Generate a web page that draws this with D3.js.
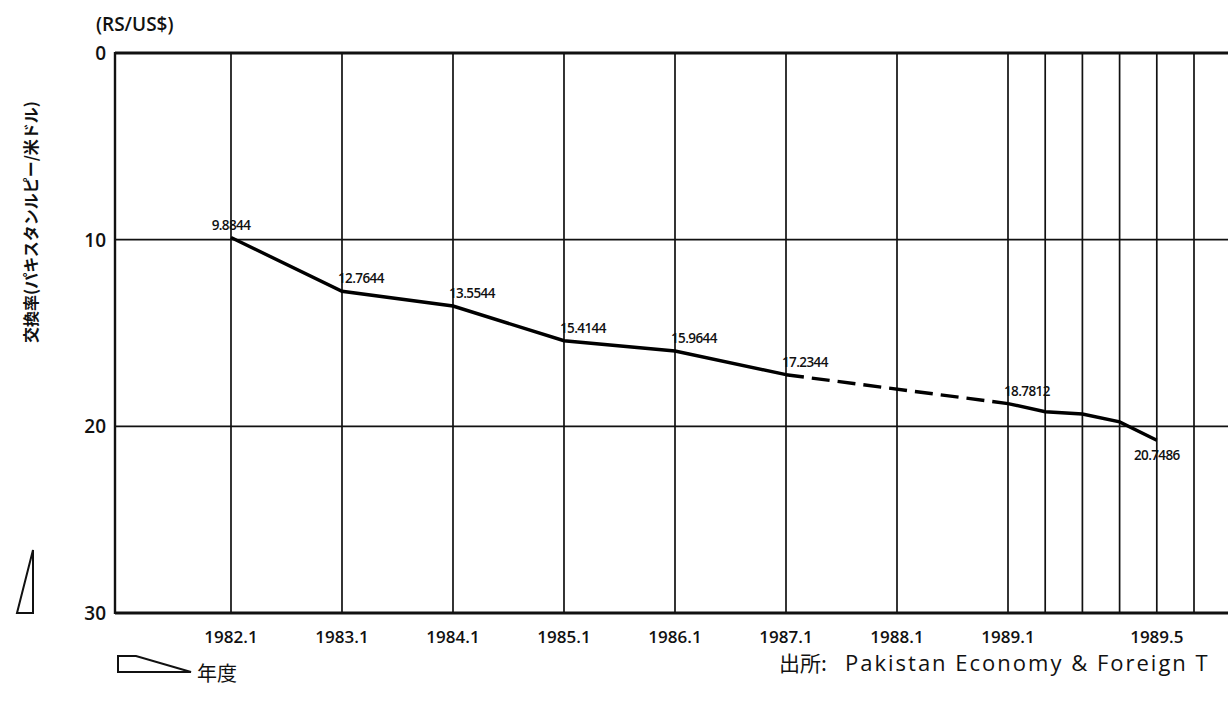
<!DOCTYPE html>
<html>
<head>
<meta charset="utf-8">
<script src="https://cdn.jsdelivr.net/npm/d3@7"></script>
<style>
  body { margin: 0; background: #fff; overflow: hidden; }
  svg { display: block; }
  .num { font-family: "Open Sans", "Noto Sans CJK JP", sans-serif; font-weight: 600; fill: #111; }
  .jp { font-family: "Noto Sans CJK JP", sans-serif; fill: #111; }
</style>
</head>
<body>
<div id="chart"></div>
<script>
// periods on the x axis (year.month) and the exchange rate
const periods = ["1982.1", "1983.1", "1984.1", "1985.1", "1986.1", "1987.1",
                 "1989.1", "1989.2", "1989.3", "1989.4", "1989.5"];
const rates = [9.8844, 12.7644, 13.5544, 15.4144, 15.9644, 17.2344,
               18.7812, 19.22, 19.34, 19.76, 20.7486];
// which points carry a value label
const labelled = ["1982.1", "1983.1", "1984.1", "1985.1", "1986.1", "1987.1", "1989.1", "1989.5"];
// the segment drawn dashed (no data in between)
const dashedFrom = "1987.1", dashedTo = "1989.1";

const gridPeriods = ["1982.1", "1983.1", "1984.1", "1985.1", "1986.1", "1987.1", "1988.1",
                     "1989.1", "1989.2", "1989.3", "1989.4", "1989.5", "1989.6"];
const tickLabels = ["1982.1", "1983.1", "1984.1", "1985.1", "1986.1", "1987.1", "1988.1", "1989.1", "1989.5"];
const yTicks = [0, 10, 20, 30];

const toYear = p => { const [y, m] = p.split(".").map(Number); return y + (m - 1) / 12; };

const W = 1228, H = 709;
const margin = { top: 53, left: 115 };
const plotH = 560;

const svg = d3.select("#chart").append("svg")
    .attr("width", W).attr("height", H);

// years are spaced evenly up to 1989, then the months of 1989 get their own wider spacing
const x = d3.scaleLinear()
    .domain([1980.955, 1989, 1990])
    .range([margin.left, 1008, 1008 + 37.2 * 12]);
const xRight = x(1989 + 6.6 / 12);

const y = d3.scaleLinear()
    .domain([0, 30])
    .range([margin.top, margin.top + plotH]);

const data = periods.map((p, i) => ({ period: p, t: toYear(p), rate: rates[i] }));

// vertical grid lines
svg.append("g")
    .selectAll("line")
    .data(gridPeriods)
    .enter().append("line")
    .attr("x1", d => x(toYear(d))).attr("x2", d => x(toYear(d)))
    .attr("y1", y(0)).attr("y2", y(30))
    .attr("stroke", "#111").attr("stroke-width", 1.7);

// horizontal grid lines + frame
svg.append("g")
    .selectAll("line")
    .data(yTicks)
    .enter().append("line")
    .attr("x1", margin.left).attr("x2", xRight)
    .attr("y1", d => y(d)).attr("y2", d => y(d))
    .attr("stroke", "#111")
    .attr("stroke-width", d => (d === 0 || d === 30) ? 2.8 : 1.7);

svg.append("line")
    .attr("x1", margin.left).attr("x2", margin.left)
    .attr("y1", y(0) - 1).attr("y2", y(30) + 1)
    .attr("stroke", "#111").attr("stroke-width", 2.4);

// y tick labels
svg.append("g")
    .selectAll("text")
    .data(yTicks)
    .enter().append("text")
    .attr("class", "num")
    .attr("x", 106)
    .attr("y", d => y(d) + 7)
    .attr("text-anchor", "end")
    .style("font-size", "19px")
    .text(d => d);

// x tick labels
svg.append("g")
    .selectAll("text")
    .data(tickLabels)
    .enter().append("text")
    .attr("class", "num")
    .attr("x", d => x(toYear(d)))
    .attr("y", y(30) + 30)
    .attr("text-anchor", "middle")
    .style("font-size", "17px")
    .text(d => d);

// the rate line: solid, dashed across the gap, solid again
const line = d3.line().x(d => x(d.t)).y(d => y(d.rate));
const iFrom = periods.indexOf(dashedFrom), iTo = periods.indexOf(dashedTo);
const pieces = [
    { pts: data.slice(0, iFrom + 1), dash: null },
    { pts: data.slice(iFrom, iTo + 1), dash: "18,8" },
    { pts: data.slice(iTo), dash: null }
];
svg.append("g")
    .selectAll("path")
    .data(pieces)
    .enter().append("path")
    .attr("d", d => line(d.pts))
    .attr("fill", "none")
    .attr("stroke", "#000")
    .attr("stroke-width", 3.4)
    .attr("stroke-dasharray", d => d.dash);

// value labels
const last = periods[periods.length - 1];
svg.append("g")
    .selectAll("text")
    .data(data.filter(d => labelled.includes(d.period)))
    .enter().append("text")
    .attr("class", "num")
    .attr("x", d => d.period === periods[0] || d.period === last ? x(d.t) : x(d.t) - 4)
    .attr("y", d => d.period === last ? y(d.rate) + 20 : y(d.rate) - 8)
    .attr("text-anchor", d => d.period === periods[0] || d.period === last ? "middle" : "start")
    .style("font-size", "13.5px")
    .style("letter-spacing", "-0.6px")
    .text(d => d.rate.toFixed(4));

// unit
svg.append("text")
    .attr("class", "num")
    .attr("x", 96).attr("y", 31)
    .style("font-size", "19px")
    .text("(RS/US$)");

// y axis title
svg.append("text")
    .attr("class", "jp")
    .attr("transform", "translate(37,222) rotate(-90)")
    .attr("text-anchor", "middle")
    .style("font-size", "16px")
    .style("font-weight", 600)
    .text("交換率(パキスタンルピー/米ドル)");

// little set-square marks
svg.append("path")
    .attr("d", "M33,550 L33,613 L17,613 Z")
    .attr("fill", "none").attr("stroke", "#111").attr("stroke-width", 2);
svg.append("path")
    .attr("d", "M118,656 L136,656 L191,672 L118,672 Z")
    .attr("fill", "none").attr("stroke", "#111").attr("stroke-width", 2);

svg.append("text")
    .attr("class", "jp")
    .attr("x", 197).attr("y", 681)
    .style("font-size", "20px")
    .text("年度");

// source (the reference page is cropped right after "Foreign T")
const src = svg.append("text")
    .attr("class", "jp")
    .attr("x", 779).attr("y", 671)
    .style("font-size", "21px");
src.append("tspan").text("出所:");
src.append("tspan")
    .attr("x", 845)
    .style("font-family", "'Open Sans', sans-serif")
    .style("font-size", "22px")
    .style("letter-spacing", "2px")
    .text("Pakistan Economy & Foreign T");
</script>
</body>
</html>
